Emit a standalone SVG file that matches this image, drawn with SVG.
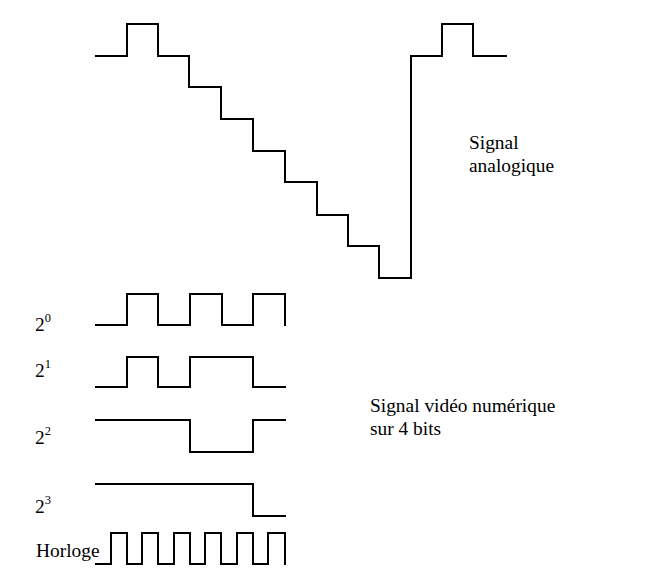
<svg xmlns="http://www.w3.org/2000/svg" width="655" height="574" viewBox="0 0 655 574">
<style>
.sig{fill:none;stroke:#000;stroke-width:2;stroke-linejoin:miter;stroke-linecap:square}
.t{font-family:"Liberation Serif","Times New Roman",serif;font-size:19.4px;fill:#000}
.sup{font-size:12.5px}
</style>
<rect width="655" height="574" fill="#fff"/>
<g id="connectors">
<path id="analog" class="sig" d="M96,56 H127 V24 H158 V56 H189 V87 H221 V119 H253 V151 H285 V182 H317 V215 H348 V246 H379 V278 H411 V56 H442 V24 H473 V56 H506"/>
<path id="bit0" class="sig" d="M96,325 H127 V294 H158 V325 H190 V294 H222 V325 H253 V294 H285 V325"/>
<path id="bit1" class="sig" d="M96,387 H127 V357 H158 V387 H190 V357 H253 V387 H285"/>
<path id="bit2" class="sig" d="M96,420 H190 V452 H253 V420 H285"/>
<path id="bit3" class="sig" d="M96,484 H253 V516 H285"/>
<path id="clock" class="sig" d="M96,564 H111 V533 H127 V564 H142 V533 H158 V564 H174 V533 H190 V564 H205 V533 H221 V564 H237 V533 H253 V564 H268 V533 H285 V564"/>
</g>
<g id="label-analog"><text class="t" x="469" y="149">Signal</text><text class="t" x="469" y="172">analogique</text></g>
<g id="label-digital"><text class="t" x="370" y="412">Signal vidéo numérique</text><text class="t" x="370" y="435">sur 4 bits</text></g>
<g id="label-b0"><text class="t" x="35" y="331">2<tspan class="sup" dy="-9">0</tspan></text></g>
<g id="label-b1"><text class="t" x="35" y="377">2<tspan class="sup" dy="-9">1</tspan></text></g>
<g id="label-b2"><text class="t" x="35" y="444">2<tspan class="sup" dy="-9">2</tspan></text></g>
<g id="label-b3"><text class="t" x="35" y="513">2<tspan class="sup" dy="-9">3</tspan></text></g>
<g id="label-clock"><text class="t" x="36" y="557">Horloge</text></g>
</svg>
